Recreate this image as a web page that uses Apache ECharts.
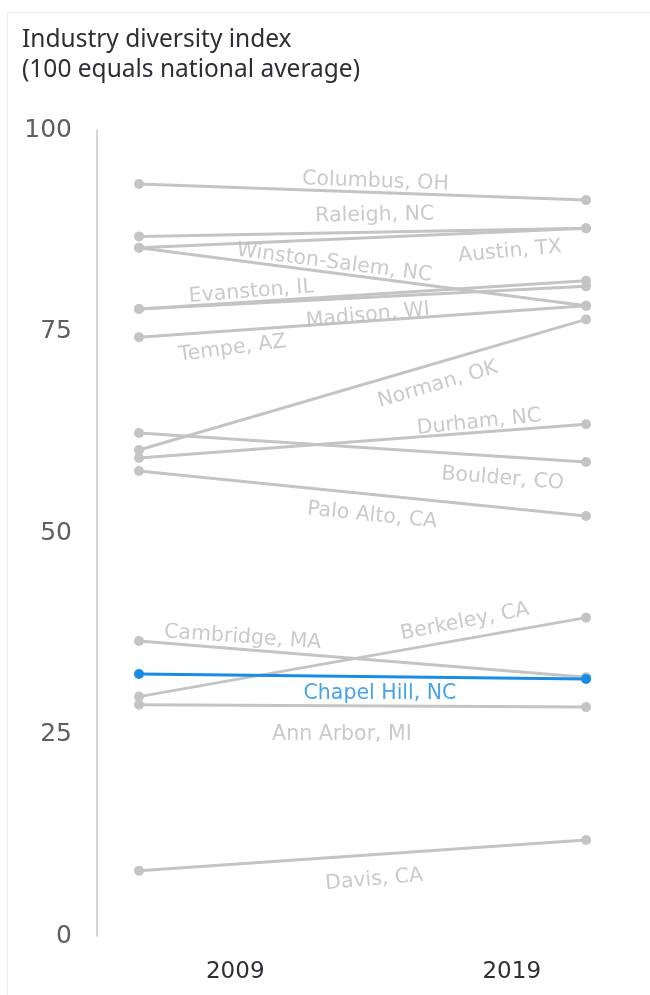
<!DOCTYPE html>
<html>
<head>
<meta charset="utf-8">
<script src="https://cdn.jsdelivr.net/npm/echarts@6/dist/echarts.min.js"></script>
<style>
  html, body { margin: 0; padding: 0; background: #fff; }
  #chart { width: 650px; height: 995px; }
</style>
</head>
<body>
<div id="chart"></div>
<script>
  // industry diversity index, 2009 vs 2019
  var years = ['2009', '2019'];
  var cities = ['Columbus, OH', 'Raleigh, NC', 'Austin, TX', 'Winston-Salem, NC', 'Evanston, IL', 'Madison, WI',
    'Tempe, AZ', 'Norman, OK', 'Durham, NC', 'Boulder, CO', 'Palo Alto, CA', 'Cambridge, MA', 'Berkeley, CA',
    'Chapel Hill, NC', 'Ann Arbor, MI', 'Davis, CA'];
  var values2009 = [93.3, 86.8, 85.4, 85.4, 77.8, 77.8, 74.3, 60.3, 59.3, 62.4, 57.7, 36.6, 29.7, 32.5, 28.7, 8.1];
  var values2019 = [91.3, 87.8, 87.8, 78.2, 81.3, 80.6, 78.2, 76.5, 63.5, 58.8, 52.1, 32.1, 39.5, 31.9, 28.4, 11.9];
  var yTicks = [0, 25, 50, 75, 100];
  var highlight = 'Chapel Hill, NC';

  // label placement: [fraction along line, vertical offset px, rotation override]
  var labelLayout = [
    [0.528, -11], [0.528, -17], [0.826, 20, 5], [0.434, -10], [0.253, -10, 4.5], [0.508, 18, 5.5],
    [0.204, 18, 7.4], [0.655, 21], [0.763, -10, 6], [0.817, 22, -4.5], [0.526, 21], [0.230, -12, -4],
    [0.736, -17, 11], [0.539, 17, 0], [0.454, 29, 0], [0.521, 25, 5]
  ];

  var FONT = 'DejaVu Sans';
  var GRAY = '#c4c4c4';
  var BLUE = '#188ce5';
  var y0 = +years[0], y1 = +years[1];

  var chart = echarts.init(document.getElementById('chart'));

  var series = cities.map(function (c, i) {
    var on = c === highlight;
    return {
      name: c,
      type: 'line',
      xAxisIndex: 0,
      yAxisIndex: 0,
      z: on ? 5 : 2,
      symbol: 'circle',
      symbolSize: 10,
      silent: true,
      animation: false,
      itemStyle: {color: on ? BLUE : GRAY},
      lineStyle: {color: on ? BLUE : GRAY, width: 3},
      data: [[y0, values2009[i]], [y1, values2019[i]]]
    };
  });

  var option = {
    animation: false,
    title: {
      text: 'Industry diversity index\n(100 equals national average)',
      left: 17,
      top: 20,
      textStyle: {fontFamily: 'Noto Sans', fontSize: 24.5, fontWeight: 'normal', color: '#2e2e38', lineHeight: 30}
    },
    graphic: [{
      type: 'rect',
      shape: {x: 7.5, y: 12.5, width: 700, height: 1000},
      style: {fill: null, stroke: '#ececec', lineWidth: 1},
      silent: true
    }],
    grid: {left: 97, right: 0, top: 130, bottom: 59},
    xAxis: [{
      type: 'value',
      min: 2008.06,
      max: 2020.43,
      show: false
    }, {
      type: 'category',
      data: years,
      position: 'bottom',
      axisLine: {show: false},
      axisTick: {show: false},
      splitLine: {show: false},
      axisLabel: {fontFamily: FONT, fontSize: 23, color: '#2e2e38', margin: 25}
    }],
    yAxis: {
      type: 'value',
      min: 0,
      max: 100,
      interval: 25,
      axisLine: {show: true, onZero: false, lineStyle: {color: '#c8c8c8', width: 1.5}},
      axisTick: {show: false},
      splitLine: {show: false},
      axisLabel: {
        fontFamily: FONT, fontSize: 25, color: '#5f5f5f', margin: 25,
        formatter: function (v) { return yTicks.indexOf(v) >= 0 ? String(v) : ''; }
      }
    },
    series: series
  };
  chart.setOption(option);

  // city labels placed along their own lines, rotated with the line
  var labelData = cities.map(function (c, i) {
    var lay = labelLayout[i];
    var t = lay[0];
    var p0 = chart.convertToPixel({xAxisIndex: 0, yAxisIndex: 0}, [y0, values2009[i]]);
    var p1 = chart.convertToPixel({xAxisIndex: 0, yAxisIndex: 0}, [y1, values2019[i]]);
    var rot = lay[2] != null ? lay[2] : -Math.atan2(p1[1] - p0[1], p1[0] - p0[0]) * 180 / Math.PI;
    var on = c === highlight;
    return {
      name: c,
      value: [y0 + t * (y1 - y0), values2009[i] + t * (values2019[i] - values2009[i])],
      label: {rotate: rot, offset: [0, lay[1]], color: on ? BLUE : '#bdbdbd'}
    };
  });

  series.push({
    type: 'scatter',
    xAxisIndex: 0,
    yAxisIndex: 0,
    symbolSize: 0,
    silent: true,
    z: 6,
    label: {
      show: true,
      position: 'inside',
      formatter: '{b}',
      fontFamily: FONT,
      fontSize: 20.5,
      align: 'center',
      verticalAlign: 'middle'
    },
    data: labelData
  });
  chart.setOption({series: series});
</script>
</body>
</html>
